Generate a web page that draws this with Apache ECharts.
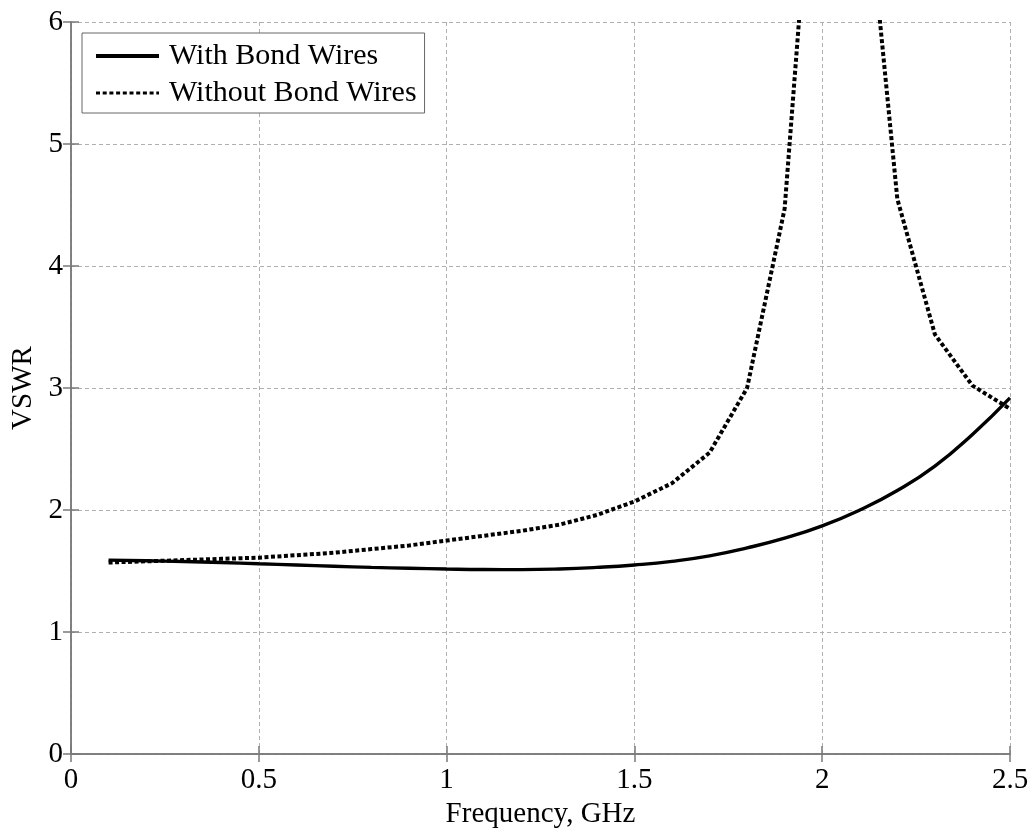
<!DOCTYPE html>
<html>
<head>
<meta charset="utf-8">
<script src="https://cdn.jsdelivr.net/npm/echarts@6/dist/echarts.min.js"></script>
<style>
html,body{margin:0;padding:0;background:#fff;}
#chart{width:1032px;height:834px;}
</style>
</head>
<body>
<div id="chart"></div>
<script>
var freq = [0.1,0.2,0.3,0.4,0.5,0.6,0.7,0.8,0.9,1.0,1.1,1.2,1.3,1.4,1.5,1.6,1.7,1.8,1.9,2.0,2.1,2.2,2.3,2.4,2.5];
var withBond = [1.59,1.585,1.578,1.57,1.56,1.55,1.54,1.53,1.523,1.517,1.513,1.512,1.517,1.53,1.55,1.58,1.625,1.69,1.77,1.87,2.0,2.16,2.36,2.62,2.92];
var withoutBond = [1.57,1.58,1.59,1.60,1.61,1.63,1.65,1.68,1.71,1.75,1.79,1.83,1.88,1.96,2.07,2.22,2.47,3.00,4.47,8.5,7.7,4.55,3.44,3.02,2.83];
var seriesNames = ['With Bond Wires','Without Bond Wires'];
var xTicks = ['0','0.5','1','1.5','2','2.5'];
var xName = 'Frequency, GHz';
var yName = 'VSWR';

function pairs(xs, ys){ return xs.map(function(x,i){ return [x, ys[i]]; }); }

var FONT = 'Liberation Serif';
var axisColor = '#7a7a7a';
var gridColor = '#b0b0b0';

var chart = echarts.init(document.getElementById('chart'), null, {renderer:'canvas'});
var option = {
  backgroundColor:'#fff',
  animation:false,
  textStyle:{fontFamily:FONT, color:'#000'},
  grid:{left:71, right:22, top:22, bottom:73, containLabel:false},
  legend:{
    orient:'vertical', left:82, top:33,
    backgroundColor:'#fff', borderColor:'#666', borderWidth:1,
    padding:[8,8,5,12],
    itemWidth:63, itemHeight:14, itemGap:7,
    itemStyle:{opacity:0},
    textStyle:{fontFamily:FONT, fontSize:30, color:'#000', padding:[0,0,0,5], lineHeight:30},
    data:[
      {name:seriesNames[0], lineStyle:{color:'#000', width:4, type:'solid'}},
      {name:seriesNames[1], lineStyle:{color:'#000', width:3.2, type:[4,2.7]}}
    ]
  },
  xAxis:[{
    type:'value', min:0, max:2.5, interval:0.5, position:'bottom',
    name:xName, nameLocation:'middle', nameGap:45,
    nameTextStyle:{fontFamily:FONT, fontSize:29, color:'#000'},
    axisLine:{show:true, lineStyle:{color:axisColor, width:1.5}},
    axisTick:{show:true, inside:true, length:8, lineStyle:{color:axisColor, width:1.5}},
    axisLabel:{fontFamily:FONT, fontSize:29, color:'#000', margin:12,
      formatter:function(v){ var i=Math.round(v/0.5); return xTicks[i]!==undefined?xTicks[i]:''; }},
    splitLine:{show:true, lineStyle:{color:gridColor, type:[4,3], width:1}}
  },{
    type:'value', min:0, max:2.5, interval:0.5, position:'top',
    axisLine:{show:true, lineStyle:{color:axisColor, width:1.5}},
    axisTick:{show:true, inside:true, length:8, lineStyle:{color:axisColor, width:1.5}},
    axisLabel:{show:false}, splitLine:{show:false}
  }],
  yAxis:[{
    type:'value', min:0, max:6, interval:1, position:'left',
    name:yName, nameLocation:'middle', nameGap:30, nameRotate:90,
    nameTextStyle:{fontFamily:FONT, fontSize:29, color:'#000'},
    axisLine:{show:true, lineStyle:{color:axisColor, width:1.5}},
    axisTick:{show:true, inside:true, length:8, lineStyle:{color:axisColor, width:1.5}},
    axisLabel:{fontFamily:FONT, fontSize:29, color:'#000', margin:8},
    splitLine:{show:true, lineStyle:{color:gridColor, type:[4,3], width:1}}
  },{
    type:'value', min:0, max:6, interval:1, position:'right',
    axisLine:{show:true, lineStyle:{color:axisColor, width:1.5}},
    axisTick:{show:true, inside:true, length:8, lineStyle:{color:axisColor, width:1.5}},
    axisLabel:{show:false}, splitLine:{show:false}
  }],
  series:[{
    name:seriesNames[0], type:'line', xAxisIndex:0, yAxisIndex:0,
    data:pairs(freq, withBond), showSymbol:false, symbol:'none', smooth:0.5,
    lineStyle:{color:'#000', width:3.4, type:'solid'},
    itemStyle:{color:'#000'}, clip:true
  },{
    name:seriesNames[1], type:'line', xAxisIndex:0, yAxisIndex:0,
    data:pairs(freq, withoutBond), showSymbol:false, symbol:'none',
    lineStyle:{color:'#000', width:4, type:[4,2.5]},
    itemStyle:{color:'#000'}, clip:true
  }]
};
chart.setOption(option);
</script>
</body>
</html>
